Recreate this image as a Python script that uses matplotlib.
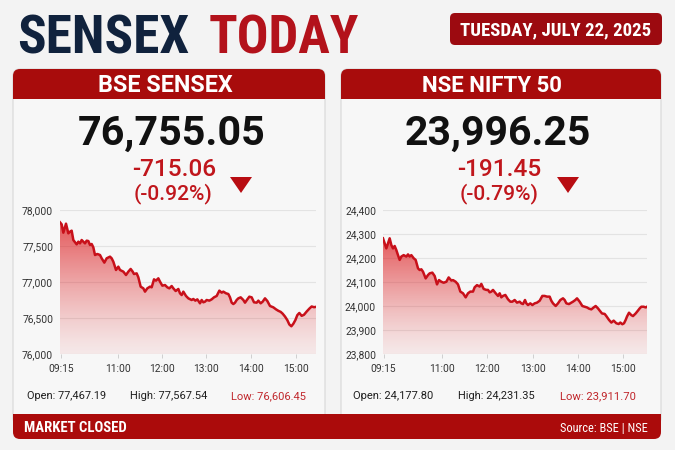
import numpy as np
import matplotlib
matplotlib.use("Agg")
import matplotlib.pyplot as plt
from matplotlib.patches import FancyBboxPatch, Rectangle, Polygon
from matplotlib import font_manager as fm

# ---------------- data ----------------
title_dark = "SENSEX"
title_red = "TODAY"
date_label = "TUESDAY, JULY 22, 2025"
index_names = ["BSE SENSEX", "NSE NIFTY 50"]
close_values = ["76,755.05", "23,996.25"]
change_values = ["-715.06", "-191.45"]
change_pcts = ["(-0.92%)", "(-0.79%)"]
open_values = ["77,467.19", "24,177.80"]
high_values = ["77,567.54", "24,231.35"]
low_values = ["76,606.45", "23,911.70"]
footer_left = "MARKET CLOSED"
footer_right = "Source: BSE | NSE"

time_labels = ["09:15", "11:00", "12:00", "13:00", "14:00", "15:00"]
sensex_tick_pos = [153, 324, 456, 588, 723, 858]
nifty_tick_pos = [132, 306, 441, 579, 714, 849]
sensex_range = [76000, 78000]
nifty_range = [23800, 24400]
sensex_yticks = [76000, 76500, 77000, 77500, 78000]
sensex_ylabels = ["76,000", "76,500", "77,000", "77,500", "78,000"]
nifty_yticks = [23800, 23900, 24000, 24100, 24200, 24300, 24400]
nifty_ylabels = ["23,800", "23,900", "24,000", "24,100", "24,200", "24,300", "24,400"]

sensex_t = [150, 155, 160, 168, 175, 180, 185, 190, 200, 205, 210, 215, 220, 225, 230,
            235, 240, 245, 250, 255, 262, 270, 275, 283, 290, 300, 305, 310, 318, 325,
            330, 340, 348, 355, 362, 368, 372, 380, 385, 392, 400, 405, 412, 420, 425,
            432, 438, 445, 450, 457, 465, 472, 478, 485, 490, 497, 505, 510, 515, 520,
            528, 535, 545, 550, 556, 562, 570, 575, 580, 585, 590, 598, 605, 612, 620,
            628, 635, 640, 648, 655, 660, 665, 670, 675, 680, 685, 692, 700, 705, 712,
            718, 725, 732, 740, 745, 752, 758, 765, 772, 780, 790, 798, 805, 812, 818,
            825, 832, 838, 844, 850, 856, 862, 868, 875, 882, 890, 898, 905, 912, 918]
sensex_v = [77829, 77801, 77685, 77810, 77676, 77699, 77713, 77583, 77523, 77560, 77537,
            77583, 77560, 77537, 77574, 77569, 77514, 77528, 77481, 77375, 77389, 77375,
            77329, 77269, 77329, 77352, 77329, 77282, 77167, 77213, 77167, 77144, 77097,
            77144, 77181, 77144, 77111, 77120, 77065, 76935, 76912, 76866, 76912, 76935,
            76926, 77037, 77019, 77051, 77005, 76949, 76958, 76926, 76912, 76944, 76912,
            76875, 76903, 76843, 76819, 76866, 76806, 76773, 76750, 76764, 76741, 76759,
            76704, 76750, 76718, 76727, 76750, 76741, 76759, 76787, 76806, 76880, 76852,
            76866, 76843, 76833, 76787, 76713, 76694, 76713, 76750, 76773, 76787, 76750,
            76713, 76759, 76796, 76787, 76718, 76713, 76741, 76704, 76727, 76773, 76736,
            76667, 76648, 76620, 76600, 76585, 76560, 76520, 76470, 76410, 76385, 76420,
            76470, 76540, 76570, 76530, 76545, 76590, 76630, 76660, 76650, 76655]

nifty_t = [130, 135, 140, 145, 150, 155, 160, 165, 170, 175, 180, 185, 192, 200, 205,
           210, 215, 222, 228, 235, 240, 245, 250, 258, 265, 270, 278, 285, 292, 298,
           305, 312, 320, 327, 335, 340, 348, 355, 362, 370, 378, 385, 392, 400, 405,
           412, 420, 425, 432, 440, 445, 450, 455, 460, 468, 475, 480, 485, 490, 497,
           505, 512, 518, 525, 532, 540, 545, 550, 556, 560, 565, 572, 578, 585, 592,
           600, 608, 615, 622, 630, 635, 640, 648, 655, 662, 670, 675, 680, 688, 695,
           700, 707, 712, 720, 728, 735, 742, 748, 755, 762, 768, 775, 780, 787, 795,
           800, 808, 815, 822, 830, 837, 842, 848, 853, 858, 862, 868, 875, 880, 888,
           895, 900, 905, 912, 918, 922]
nifty_v = [24282, 24261, 24240, 24261, 24282, 24254, 24240, 24250, 24233, 24212, 24192,
           24206, 24212, 24206, 24215, 24206, 24212, 24199, 24192, 24157, 24150, 24153,
           24143, 24115, 24129, 24136, 24139, 24125, 24090, 24108, 24101, 24097, 24101,
           24119, 24106, 24108, 24101, 24090, 24060, 24053, 24036, 24053, 24060, 24060,
           24078, 24087, 24081, 24092, 24071, 24067, 24067, 24057, 24060, 24067, 24053,
           24042, 24053, 24036, 24042, 24046, 24028, 24018, 24018, 24025, 24014, 24018,
           24011, 24008, 24025, 24011, 24004, 24011, 24004, 24011, 24014, 24022, 24042,
           24042, 24039, 24039, 24022, 24011, 24000, 24011, 24025, 24032, 24025, 24011,
           24008, 24014, 24018, 24025, 24032, 24018, 24000, 23997, 23994, 23989, 23986,
           23994, 24000, 23990, 23981, 23969, 23967, 23958, 23942, 23931, 23939, 23928,
           23925, 23931, 23924, 23928, 23942, 23956, 23972, 23962, 23958, 23969, 23981,
           23990, 23997, 23997, 23994, 23997]

# ---------------- fonts ----------------
available = {f.name for f in fm.fontManager.ttflist}


def pick(*names):
    for n in names:
        if n in available:
            return n
    return "DejaVu Sans"


COND = pick("Roboto Condensed", "Liberation Sans Narrow", "Open Sans Condensed", "Roboto", "Liberation Sans")
SANS = pick("Roboto", "Liberation Sans", "Open Sans", "DejaVu Sans")
plt.rcParams["font.family"] = [SANS, "DejaVu Sans"]

NAVY = "#10223d"
RED_T = "#b3121b"
RED_H = "#a80c0c"
RED_B = "#ab0b0b"
RED_TXT = "#c0161c"

fig = plt.figure(figsize=(6.75, 4.5), dpi=100, facecolor="#f3f3f3")
bg = fig.add_axes([0, 0, 1, 1])
bg.set_xlim(0, 675)
bg.set_ylim(450, 0)
bg.axis("off")
R = fig.canvas.get_renderer()


def fit(x, y, s, width, ha="center", va="baseline", size=12, **kw):
    t = bg.text(x, y, s, ha=ha, va=va, fontsize=size, **kw)
    w = t.get_window_extent(renderer=R).width
    t.set_fontsize(size * width / w)
    return t


def rbox(x0, y0, x1, y1, r, **kw):
    p = FancyBboxPatch((x0, y0), x1 - x0, y1 - y0,
                       boxstyle=f"round,pad=0,rounding_size={r}", **kw)
    bg.add_patch(p)
    return p


# title
fit(17, 54, title_dark, 172, ha="left", family=[COND, "DejaVu Sans"], weight="bold", color=NAVY, size=40)
fit(209, 54, title_red, 150, ha="left", family=[COND, "DejaVu Sans"], weight="bold", color=RED_T, size=40)

# date box
rbox(450, 13, 662, 45, 5, fc="#9c0a10", ec="none")
fit(556, 35, date_label, 191, family=[COND, "DejaVu Sans"], weight="bold", color="white", size=14)

# cards
cards = [(13, 325), (341, 661)]
header_text = [(165, 135), (492, 141)]
close_pos = [(172, 189), (498, 187)]
change_pos = [(174, 84), (499, 84)]
pct_x = [173, 499]
tri_x = [241, 568]
for i, (x0, x1) in enumerate(cards):
    rbox(x0, 69, x1, 425, 7, fc="#f7f7f7", ec="#d8d8d8", lw=0.8, zorder=1)
    rbox(x0, 69, x1, 99, 7, fc=RED_H, ec="none", zorder=2)
    bg.add_patch(Rectangle((x0, 88), x1 - x0, 11, fc=RED_H, ec="none", zorder=2))
    hx, hw = header_text[i]
    fit(hx, 92, index_names[i], hw, weight="bold", color="white", size=14, zorder=3)
    cx, cw = close_pos[i]
    fit(cx, 145, close_values[i], cw, weight="bold", color="#111111", size=32, zorder=3)
    chx, chw = change_pos[i]
    fit(chx, 176, change_values[i], chw, weight="medium", color=RED_TXT, size=17, zorder=3)
    fit(pct_x[i], 199, change_pcts[i], 79, weight="medium", color=RED_TXT, size=16, zorder=3)
    tx = tri_x[i]
    bg.add_patch(Polygon([(tx - 11, 177), (tx + 11, 177), (tx, 193)], closed=True,
                         fc="#b80d12", ec="none", zorder=3))

# stats row
stats_x = [(27, 130, 231), (353, 458, 560)]
stats_w = [(80, 77, 75), (81, 77, 76)]
for i in range(2):
    xo, xh, xl = stats_x[i]
    wo, wh, wl = stats_w[i]
    fit(xo, 399, "Open: " + open_values[i], wo, ha="left", color="#1e1e1e", size=9, zorder=3)
    fit(xh, 399, "High: " + high_values[i], wh, ha="left", color="#1e1e1e", size=9, zorder=3)
    fit(xl, 399, "Low: " + low_values[i], wl, ha="left", color="#c0262b", size=9, zorder=3)

# footer bar
rbox(13, 414, 661, 439, 7, fc=RED_B, ec="none", zorder=4)
bg.add_patch(Rectangle((13, 414), 648, 10, fc=RED_B, ec="none", zorder=4))
fit(24, 431.5, footer_left, 103, ha="left", family=[COND, "DejaVu Sans"], weight="bold",
    color="white", size=11, zorder=5)
fit(648, 431.5, footer_right, 88, ha="right", family=[COND, "DejaVu Sans"], color="white",
    size=10, zorder=5)


# ---------------- charts ----------------
def draw_chart(rect, t, v, yr, xlim, ticks, yticks, ylabels):
    ax = fig.add_axes(rect)
    ax.set_facecolor("none")
    t = np.asarray(t, float)
    v = np.asarray(v, float)
    ymin, ymax = yr
    poly = ax.fill_between(t, v, ymin, color="none", lw=0)
    n = 256
    frac = np.linspace(0, 1, n).reshape(-1, 1)  # 0 bottom, 1 top
    img = np.zeros((n, 1, 4))
    img[..., 0] = 0.87
    img[..., 1] = 0.12
    img[..., 2] = 0.13
    img[..., 3] = (0.07 + 0.66 * frac ** 1.25)
    im = ax.imshow(img, extent=[xlim[0], xlim[1], ymin, v.max()], origin="lower",
                   aspect="auto", zorder=2, interpolation="bilinear")
    im.set_clip_path(poly.get_paths()[0], transform=ax.transData)
    ax.plot(t, v, color="#c8101a", lw=1.8, zorder=3, solid_joinstyle="round")
    ax.set_xlim(*xlim)
    ax.set_ylim(ymin, ymax)
    ax.set_yticks(yticks)
    ax.set_yticklabels(ylabels)
    ax.set_xticks(ticks)
    ax.set_xticklabels(time_labels)
    ax.grid(axis="y", color="#e3e3e3", lw=0.8, zorder=0)
    ax.set_axisbelow(True)
    for s in ax.spines.values():
        s.set_visible(False)
    ax.tick_params(axis="y", length=0, pad=5, labelsize=7.4, labelcolor="#333333")
    ax.tick_params(axis="x", length=3, width=0.7, color="#cfcfcf", pad=4,
                   labelsize=7.4, labelcolor="#333333")
    return ax


draw_chart([60 / 675, 96 / 450, 256 / 675, 144 / 450], sensex_t, sensex_v, sensex_range,
           (150, 918), sensex_tick_pos, sensex_yticks, sensex_ylabels)
draw_chart([383 / 675, 96 / 450, 264 / 675, 144 / 450], nifty_t, nifty_v, nifty_range,
           (130, 922), nifty_tick_pos, nifty_yticks, nifty_ylabels)

fig.savefig("out.png", dpi=100, facecolor=fig.get_facecolor())
